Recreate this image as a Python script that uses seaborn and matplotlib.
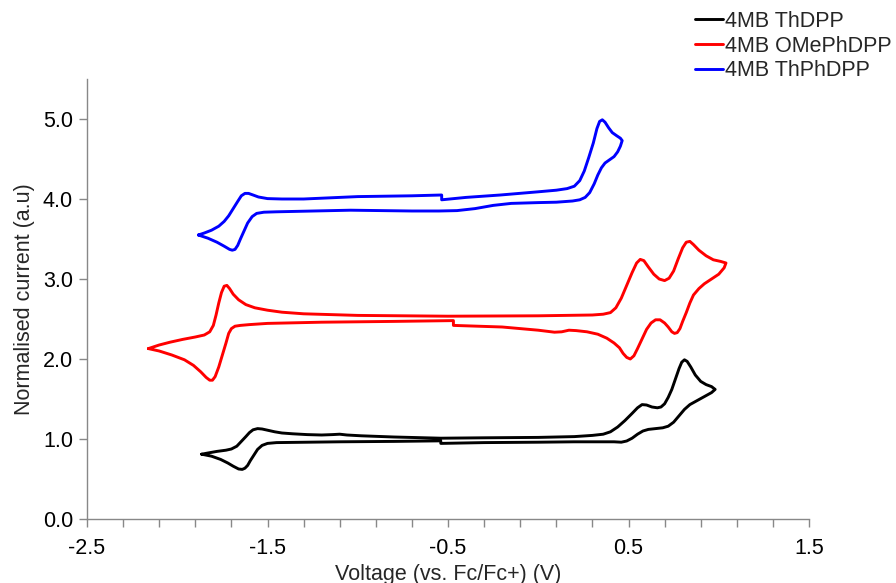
import numpy as np
import pandas as pd
import matplotlib
matplotlib.use("Agg")
import matplotlib.pyplot as plt
import seaborn as sns

series_names = ["4MB ThDPP", "4MB OMePhDPP", "4MB ThPhDPP"]
series_colors = ["#000000", "#ff0000", "#0000ff"]

# 4MB ThDPP closed loop (V, normalised current)
thdpp_v = [-1.865, -1.83, -1.78, -1.73, -1.70, -1.67, -1.645, -1.62, -1.60, -1.58, -1.555, -1.53,
           -1.50, -1.46, -1.42, -1.36, -1.28, -1.20, -1.14, -1.10, -1.06, -0.98, -0.80, -0.54,
           -0.30, 0.00, 0.20, 0.30, 0.36, 0.40, 0.44, 0.48, 0.52, 0.55, 0.575, 0.60, 0.63, 0.66,
           0.68, 0.70, 0.72, 0.74, 0.76, 0.78, 0.795, 0.81, 0.825, 0.845, 0.87, 0.90, 0.93, 0.96,
           0.98,
           0.96, 0.92, 0.88, 0.84, 0.81, 0.78, 0.75, 0.72, 0.69, 0.65, 0.61, 0.58, 0.55, 0.52,
           0.49, 0.46, 0.42, 0.20, 0.00, -0.30, -0.54, -0.54, -0.80, -1.10, -1.45, -1.50, -1.53,
           -1.555, -1.575, -1.595, -1.61, -1.625, -1.64, -1.66, -1.69, -1.72, -1.76, -1.81, -1.865]
thdpp_i = [0.81, 0.825, 0.845, 0.86, 0.875, 0.91, 0.97, 1.03, 1.08, 1.115, 1.13, 1.125,
           1.11, 1.09, 1.075, 1.065, 1.055, 1.05, 1.055, 1.06, 1.05, 1.04, 1.025, 1.01,
           1.015, 1.02, 1.03, 1.045, 1.06, 1.09, 1.15, 1.23, 1.32, 1.39, 1.43, 1.425, 1.40, 1.39,
           1.40, 1.44, 1.52, 1.62, 1.75, 1.88, 1.96, 1.99, 1.97, 1.90, 1.80, 1.72, 1.68, 1.655,
           1.62,
           1.58, 1.53, 1.48, 1.43, 1.37, 1.29, 1.21, 1.16, 1.14, 1.13, 1.12, 1.10, 1.06, 1.01,
           0.975, 0.96, 0.965, 0.965, 0.96, 0.955, 0.945, 0.977, 0.97, 0.965, 0.955, 0.945, 0.92,
           0.87, 0.80, 0.73, 0.67, 0.635, 0.62, 0.625, 0.66, 0.70, 0.745, 0.785, 0.81]

# 4MB OMePhDPP closed loop
omeph_v = [-2.16, -2.10, -2.04, -1.97, -1.90, -1.85, -1.82, -1.80, -1.785, -1.77, -1.755, -1.74,
           -1.725, -1.71, -1.69, -1.66, -1.62, -1.57, -1.50, -1.42, -1.30, -1.00, -0.50, 0.00,
           0.30, 0.36, 0.40, 0.43, 0.46, 0.49, 0.52, 0.545, 0.565, 0.585, 0.61, 0.64, 0.67, 0.70,
           0.725, 0.75, 0.775, 0.80, 0.82, 0.84, 0.86, 0.89, 0.93, 0.97, 1.01, 1.04,
           1.03, 1.00, 0.96, 0.92, 0.89, 0.86, 0.84, 0.82, 0.80, 0.785, 0.77, 0.755, 0.74, 0.72,
           0.70, 0.675, 0.65, 0.625, 0.60, 0.575, 0.55, 0.53, 0.51, 0.49, 0.47, 0.45, 0.42, 0.38,
           0.33, 0.27, 0.21, 0.17, 0.13, 0.09, 0.00, -0.20, -0.47, -0.47, -0.80, -1.20, -1.50,
           -1.60, -1.65, -1.68, -1.70, -1.715, -1.73, -1.75, -1.77, -1.79, -1.805, -1.82, -1.84,
           -1.87, -1.91, -1.96, -2.03, -2.10, -2.16]
omeph_i = [2.13, 2.175, 2.21, 2.245, 2.275, 2.30, 2.34, 2.42, 2.55, 2.70, 2.83, 2.91,
           2.92, 2.88, 2.81, 2.74, 2.68, 2.64, 2.61, 2.585, 2.565, 2.545, 2.535, 2.54,
           2.55, 2.56, 2.58, 2.64, 2.76, 2.92, 3.08, 3.20, 3.245, 3.23, 3.15, 3.06, 3.00, 2.98,
           3.01, 3.10, 3.25, 3.39, 3.46, 3.47, 3.43, 3.36, 3.29, 3.24, 3.22, 3.20,
           3.14, 3.06, 3.00, 2.94, 2.88, 2.80, 2.70, 2.58, 2.47, 2.38, 2.33, 2.32, 2.34, 2.40,
           2.45, 2.49, 2.49, 2.45, 2.37, 2.25, 2.13, 2.04, 2.00, 2.02, 2.07, 2.14, 2.20, 2.26,
           2.31, 2.34, 2.355, 2.36, 2.34, 2.335, 2.36, 2.40, 2.42, 2.48, 2.47, 2.46, 2.445,
           2.43, 2.42, 2.41, 2.38, 2.32, 2.20, 2.05, 1.90, 1.78, 1.735, 1.735, 1.77,
           1.84, 1.92, 1.99, 2.05, 2.10, 2.13]

# 4MB ThPhDPP closed loop
thph_v = [-1.883, -1.85, -1.81, -1.77, -1.74, -1.715, -1.69, -1.665, -1.645, -1.625, -1.605,
          -1.58, -1.55, -1.50, -1.42, -1.30, -1.00, -0.70, -0.535, -0.535, -0.40, -0.21, 0.00,
          0.10, 0.16, 0.20, 0.23, 0.255, 0.28, 0.305, 0.325, 0.34, 0.355, 0.37, 0.39, 0.41,
          0.435, 0.455, 0.465,
          0.455, 0.44, 0.42, 0.395, 0.37, 0.35, 0.33, 0.31, 0.285, 0.26, 0.23, 0.19, 0.10, 0.00,
          -0.15, -0.25, -0.35, -0.45, -0.55, -0.70, -1.04, -1.45, -1.52, -1.56, -1.585, -1.61,
          -1.63, -1.65, -1.665, -1.68, -1.695, -1.71, -1.74, -1.78, -1.83, -1.883]
thph_i = [3.55, 3.575, 3.61, 3.66, 3.72, 3.79, 3.88, 3.97, 4.04, 4.07, 4.07,
          4.05, 4.025, 4.005, 4.00, 4.00, 4.03, 4.04, 4.05, 3.99, 4.02, 4.05, 4.09,
          4.11, 4.13, 4.16, 4.23, 4.35, 4.52, 4.70, 4.88, 4.97, 4.99, 4.96, 4.89, 4.83,
          4.79, 4.76, 4.73,
          4.66, 4.59, 4.53, 4.49, 4.45, 4.39, 4.30, 4.19, 4.08, 4.02, 3.99, 3.975, 3.96, 3.955,
          3.945, 3.92, 3.88, 3.855, 3.85, 3.85, 3.86, 3.84, 3.835, 3.82, 3.78, 3.70,
          3.60, 3.50, 3.42, 3.37, 3.36, 3.37, 3.41, 3.46, 3.51, 3.55]

x_ticks = [-2.5, -1.5, -0.5, 0.5, 1.5]
y_ticks = [0.0, 1.0, 2.0, 3.0, 4.0, 5.0]

frames = []
for name, v, i in zip(series_names, [thdpp_v, omeph_v, thph_v], [thdpp_i, omeph_i, thph_i]):
    frames.append(pd.DataFrame({"V": v, "I": i, "series": name, "order": np.arange(len(v))}))
df = pd.concat(frames, ignore_index=True)

sns.set_style("white")
plt.rcParams["font.family"] = ["Liberation Sans", "DejaVu Sans"]
plt.rcParams["axes.unicode_minus"] = False

fig = plt.figure(figsize=(8.96, 5.83), dpi=100)
ax = fig.add_axes([87 / 896, 64 / 583, (809 - 87) / 896, (519 - 79) / 583])

sns.lineplot(data=df, x="V", y="I", hue="series", hue_order=series_names,
             palette=series_colors, sort=False, estimator=None, lw=2.1, ax=ax)

ax.set_xlim(-2.5, 1.5)
ax.set_ylim(0, 5.5)
minor = np.round(np.arange(-2.5, 1.5001, 0.2), 2)
ax.set_xticks(minor)
ax.set_xticklabels([f"{t:.1f}" if any(abs(t - m) < 1e-6 for m in x_ticks) else "" for t in minor])
ax.set_yticks(y_ticks)
ax.set_yticklabels([f"{t:.1f}" for t in y_ticks])
ax.tick_params(axis="both", labelsize=15.5, colors="#888888", labelcolor="#000000",
               direction="out", length=6, width=1, bottom=True, left=True)
ax.tick_params(axis="x", pad=8)
ax.tick_params(axis="y", pad=4)
for s in ["top", "right"]:
    ax.spines[s].set_visible(False)
for s in ["left", "bottom"]:
    ax.spines[s].set_color("#888888")
    ax.spines[s].set_linewidth(1)

ax.set_xlabel("Voltage (vs. Fc/Fc+) (V)", fontsize=15.5, labelpad=3)
ax.set_ylabel("Normalised current (a.u)", fontsize=15.5, labelpad=6)

handles, labels = ax.get_legend_handles_labels()
ax.get_legend().remove()
fig.legend(handles, labels, loc="upper left", bbox_to_anchor=(695 / 896, 1 - 11 / 583),
           frameon=False, fontsize=15.5, handlelength=1.3, handletextpad=0.1,
           labelspacing=0.17, borderaxespad=0, borderpad=0)

fig.savefig("out.png", dpi=100)
